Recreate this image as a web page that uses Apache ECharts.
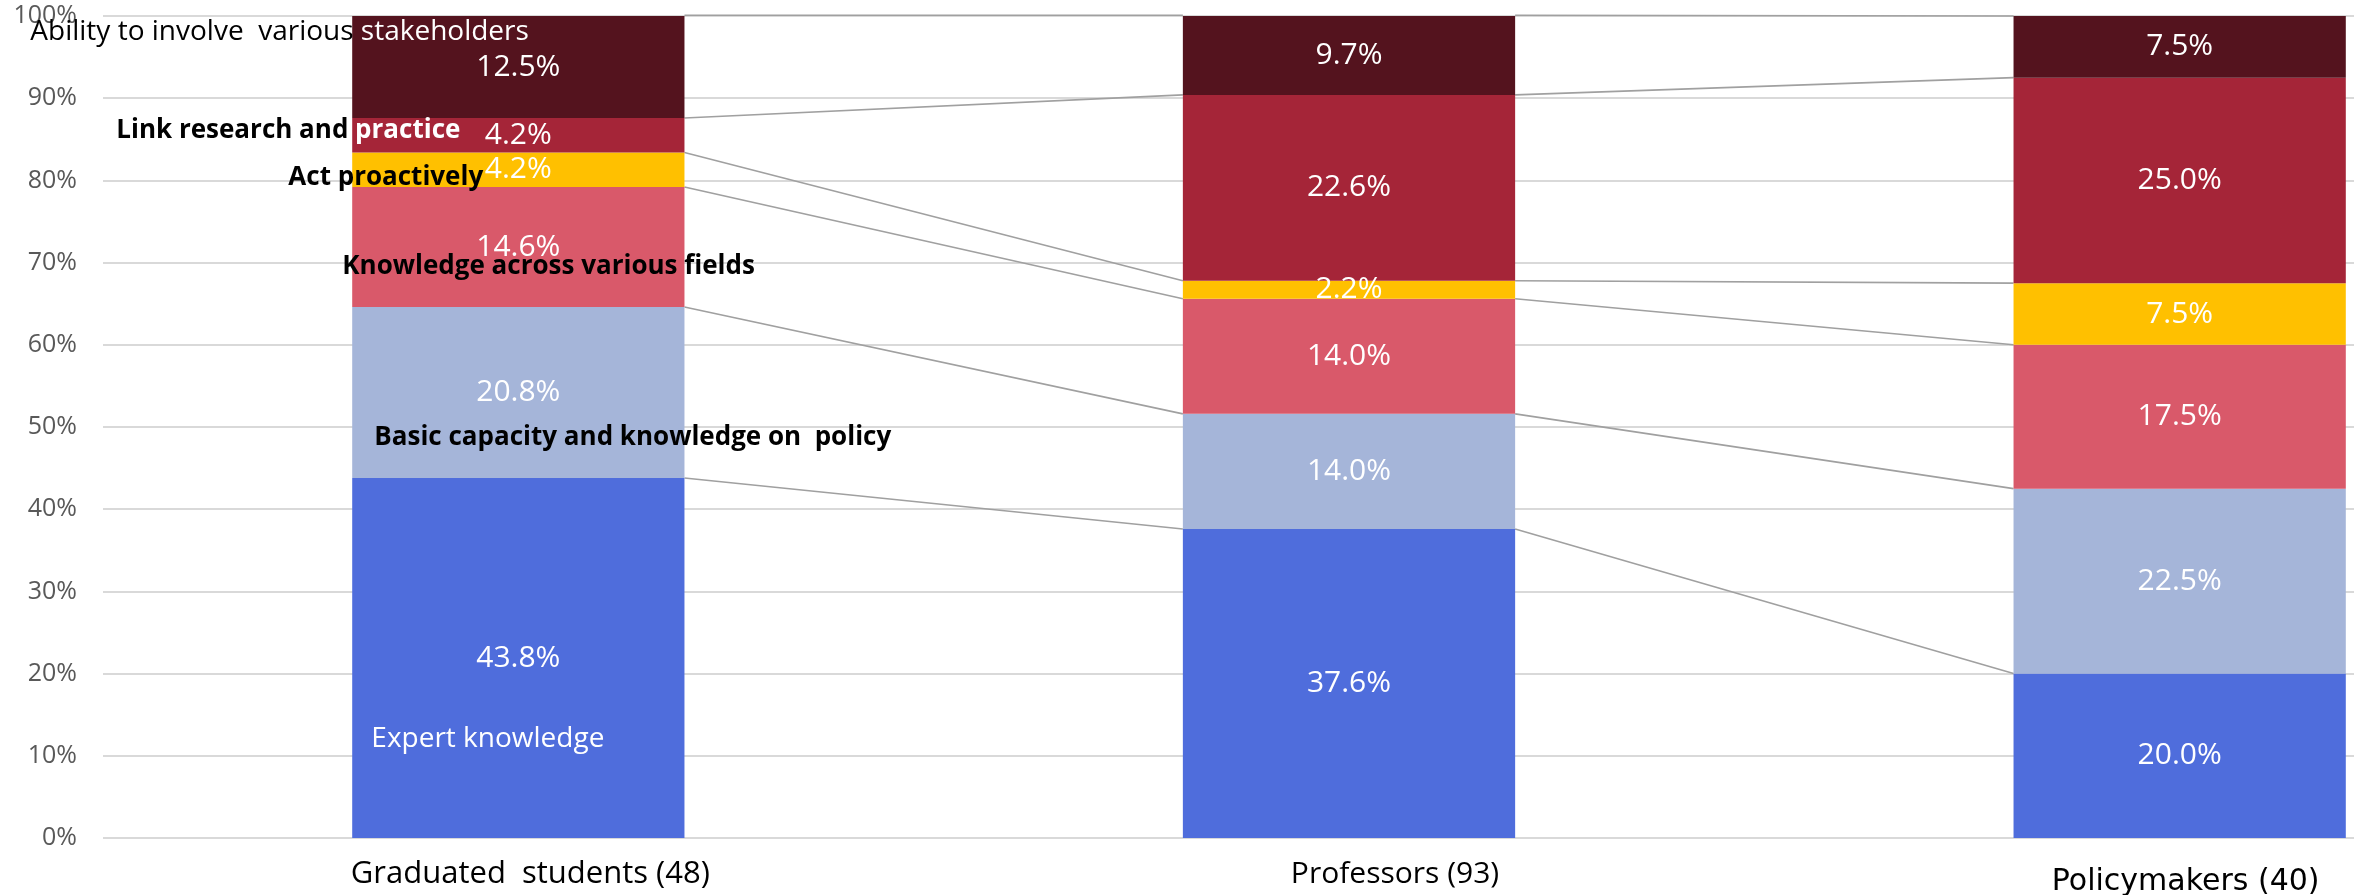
<!DOCTYPE html>
<html>
<head>
<meta charset="utf-8">
<script src="https://cdn.jsdelivr.net/npm/echarts@6/dist/echarts.min.js"></script>
<style>
html,body{margin:0;padding:0;background:#ffffff;}
#chart{width:2354px;height:895px;}
</style>
</head>
<body>
<div id="chart"></div>
<script>
// ---------------- data ----------------
const categories = ['Graduated  students (48)', 'Professors (93)', 'Policymakers (40)'];
const seriesNames = [
  'Expert knowledge',
  'Basic capacity and knowledge on  policy',
  'Knowledge across various fields',
  'Act proactively',
  'Link research and practice',
  'Ability to involve  various stakeholders'
];
const expertKnowledge     = [43.8, 37.6, 20.0];
const basicCapacity       = [20.8, 14.0, 22.5];
const knowledgeFields     = [14.6, 14.0, 17.5];
const actProactively      = [4.2, 2.2, 7.5];
const linkResearch        = [4.2, 22.6, 25.0];
const involveStakeholders = [12.5, 9.7, 7.5];
const yTickValues = [0, 10, 20, 30, 40, 50, 60, 70, 80, 90, 100];

// ---------------- styles / layout ----------------
const segmentValues = [expertKnowledge, basicCapacity, knowledgeFields, actProactively, linkResearch, involveStakeholders];
const colors = ['#4F6DDC', '#A5B5D9', '#D9596A', '#FFC000', '#A52538', '#54131E'];
const BAR_RATIO = 0.4;
const FONT = "'Open Sans', 'Noto Sans', sans-serif";

// annotation texts (series names) placed next to the first bar
// [series index, value on y axis where the text sits, pixel shift from bar centre, rich text]
const annotationLayout = [
  [5, 98.0, -488, '{k|Ability to involve  various }{w|stakeholders}'],
  [4, 86.1, -402, '{kb|Link research and }{wb|practice}'],
  [3, 80.4, -230, '{kb|Act proactively}'],
  [2, 69.5, -176, '{kb|Knowledge across various fields}'],
  [1, 48.7, -144, '{kb|Basic capacity and knowledge on  policy}'],
  [0, 12.0, -147, '{w|Expert knowledge}']
];

// cumulative tops of each segment per category
const cumulative = categories.map((c, i) => {
  let s = 0;
  return segmentValues.map(arr => { s += arr[i]; return +s.toFixed(1); });
});
const connectorData = [];
for (let i = 0; i < categories.length - 1; i++) {
  for (let k = 0; k < segmentValues.length; k++) {
    connectorData.push([i, cumulative[i][k], cumulative[i + 1][k]]);
  }
}

const barSeries = segmentValues.map((vals, k) => ({
  name: seriesNames[k],
  type: 'bar',
  stack: 'total',
  barWidth: (BAR_RATIO * 100) + '%',
  data: vals,
  z: 3,
  itemStyle: { color: colors[k] },
  label: {
    show: true,
    position: 'inside',
    color: '#ffffff',
    fontFamily: FONT,
    fontSize: 30,
    formatter: p => p.value.toFixed(1) + '%'
  },
  emphasis: { disabled: true }
}));

const connectorSeries = {
  type: 'custom',
  z: 2,
  silent: true,
  data: connectorData,
  encode: { x: 0, y: [1, 2] },
  renderItem: function (params, api) {
    const i = api.value(0);
    const p1 = api.coord([i, api.value(1)]);
    const p2 = api.coord([i + 1, api.value(2)]);
    const half = api.size([1, 0])[0] * BAR_RATIO / 2;
    return {
      type: 'line',
      shape: { x1: p1[0] + half, y1: p1[1], x2: p2[0] - half, y2: p2[1] },
      style: { stroke: '#A0A0A0', lineWidth: 1.6 }
    };
  }
};

const annotationSeries = {
  type: 'custom',
  z: 10,
  silent: true,
  data: annotationLayout.map((a, idx) => [0, a[1], idx]),
  encode: { x: 0, y: 1 },
  renderItem: function (params, api) {
    const a = annotationLayout[api.value(2)];
    const p = api.coord([api.value(0), api.value(1)]);
    return {
      type: 'text',
      x: p[0] + a[2],
      y: p[1],
      style: {
        text: a[3],
        align: 'left',
        verticalAlign: 'middle',
        rich: {
          k:  { fontFamily: FONT, fontSize: 28, fill: '#000000' },
          w:  { fontFamily: FONT, fontSize: 28, fill: '#ffffff' },
          kb: { fontFamily: FONT, fontSize: 26, fontWeight: 'bold', fill: '#000000' },
          wb: { fontFamily: FONT, fontSize: 26, fontWeight: 'bold', fill: '#ffffff' }
        }
      }
    };
  }
};

const chart = echarts.init(document.getElementById('chart'), null, { renderer: 'canvas' });
chart.setOption({
  animation: false,
  backgroundColor: '#ffffff',
  // the original picture is cut on the right: the grid runs past the right edge
  grid: { left: 103, top: 16, width: 2492, height: 822, outerBoundsMode: 'none', containLabel: false },
  xAxis: {
    type: 'category',
    data: categories,
    axisLine: { show: false },
    axisTick: { show: false },
    axisLabel: {
      margin: 21,
      fontFamily: FONT,
      fontSize: 31,
      color: '#000000',
      formatter: (v, idx) => '{c' + idx + '|' + v + '}',
      rich: {
        c0: { fontFamily: FONT, fontSize: 31, color: '#000000', padding: [0, 0, 0, 24] },
        c1: { fontFamily: FONT, fontSize: 30, color: '#000000', padding: [0, 0, 0, 92] },
        c2: { fontFamily: "'DejaVu Sans', sans-serif", fontSize: 30, color: '#000000', padding: [8, 0, 0, 12] }
      }
    }
  },
  yAxis: {
    type: 'value',
    min: yTickValues[0],
    max: yTickValues[yTickValues.length - 1],
    interval: yTickValues[1] - yTickValues[0],
    axisLine: { show: false },
    axisTick: { show: false },
    splitLine: { lineStyle: { color: '#D9D9D9', width: 2 } },
    axisLabel: {
      margin: 26,
      fontFamily: FONT,
      fontSize: 25,
      color: '#595959',
      formatter: '{value}%'
    }
  },
  series: [...barSeries, connectorSeries, annotationSeries]
});
</script>
</body>
</html>
